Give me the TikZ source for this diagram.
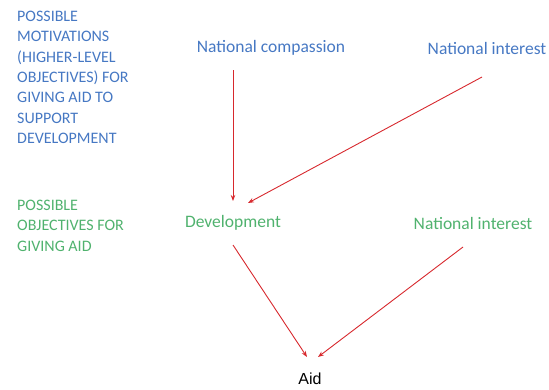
\documentclass[tikz,border=0pt]{standalone}
\usepackage{fontspec}
\setmainfont{Carlito}
\newfontfamily\aidfont{Liberation Sans}
\usetikzlibrary{arrows.meta}
\definecolor{tblue}{RGB}{70,120,195}
\definecolor{tgreen}{RGB}{80,178,110}
\definecolor{tred}{RGB}{215,40,45}
\tikzset{
  lbl/.style={inner sep=0pt, font=\fontsize{17.5}{18.4}\selectfont},
  side/.style={inner sep=0pt, anchor=north west, align=left, font=\fontsize{16}{20.3}\selectfont},
  arr/.style={draw=tred, line width=0.9pt, -{Stealth[length=6pt,width=4.5pt]}}
}
\begin{document}
\begin{tikzpicture}[x=1pt,y=-1pt]
\useasboundingbox (0,0) rectangle (549,389);
\node[side, text=tblue] (mot) at (17,11) {POSSIBLE\\MOTIVATIONS\\(HIGHER-LEVEL\\OBJECTIVES) FOR\\GIVING AID TO\\SUPPORT\\DEVELOPMENT};
\node[side, text=tgreen] (obj) at (17,200) {POSSIBLE\\OBJECTIVES FOR\\GIVING AID};
\node[lbl, text=tblue] (comp) at (271,48) {National compassion};
\node[lbl, text=tblue] (nint1) at (487,48) {National interest};
\node[lbl, text=tgreen] (dev) at (233,223) {Development};
\node[lbl, text=tgreen] (nint2) at (473,223) {National interest};
\node[text=black, inner sep=0pt, font=\aidfont\fontsize{16}{18}\selectfont] (aid) at (310,379) {Aid};
\coordinate (c1s) at (233,70);
\coordinate (c1e) at (233,201);
\coordinate (c2s) at (482,77);
\coordinate (c2e) at (248,203);
\coordinate (c3s) at (233,245);
\coordinate (c3e) at (307,357);
\coordinate (c4s) at (463,247);
\coordinate (c4e) at (318,357);
\draw[arr] (c1s) -- (c1e);
\draw[arr] (c2s) -- (c2e);
\draw[arr] (c3s) -- (c3e);
\draw[arr] (c4s) -- (c4e);
\end{tikzpicture}
\end{document}
